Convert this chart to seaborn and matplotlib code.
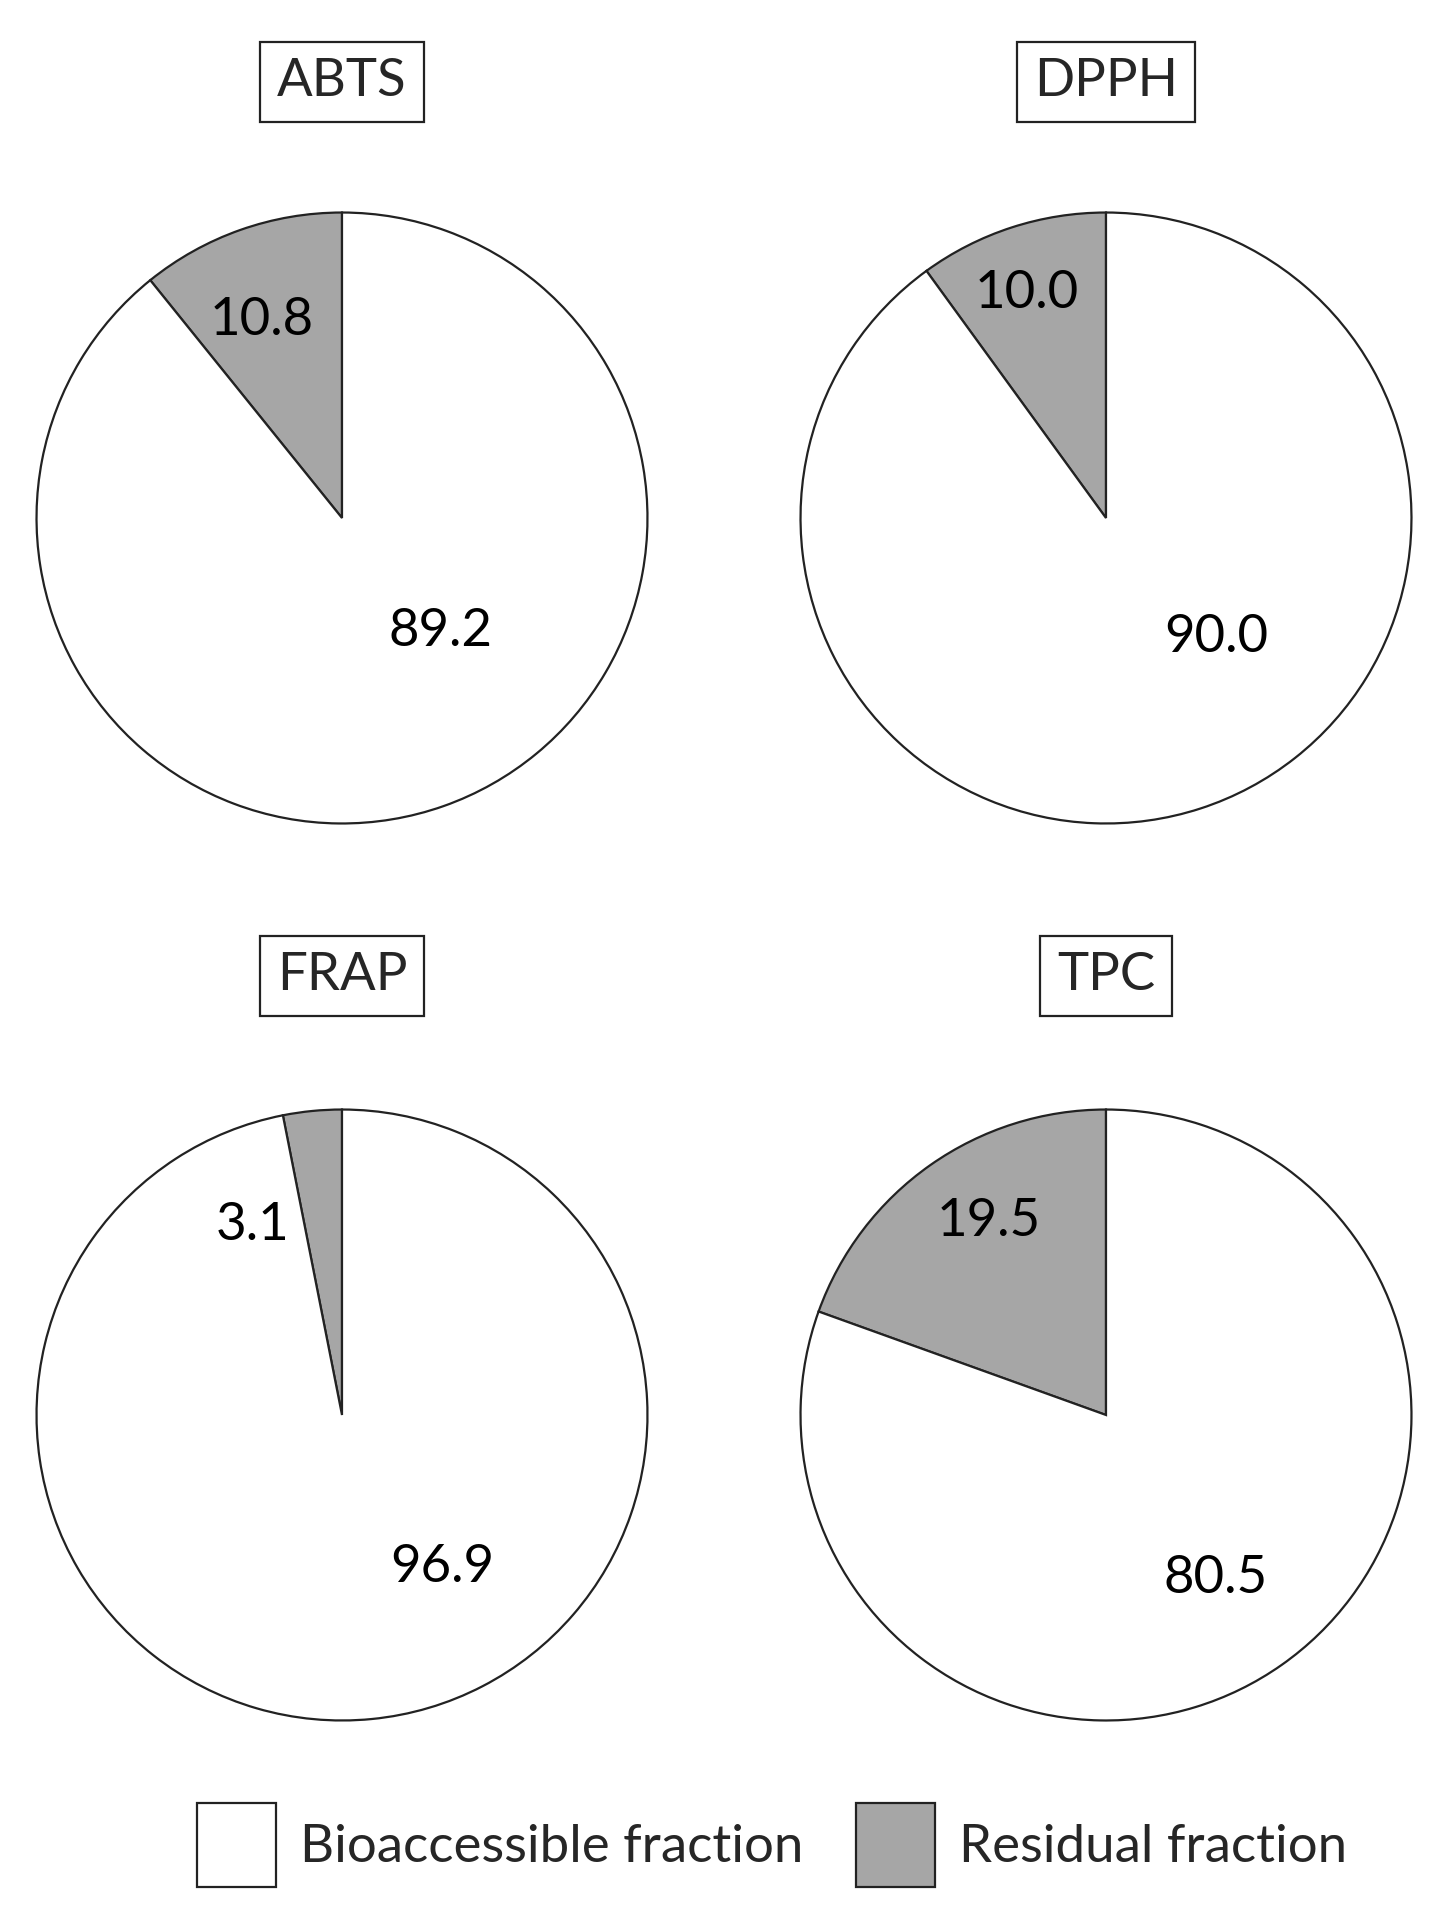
# Bioaccessible vs residual fraction pies
import matplotlib
matplotlib.use("Agg")
import matplotlib.pyplot as plt
from matplotlib.patches import Patch
import seaborn as sns

# data
assays = ["ABTS", "DPPH", "FRAP", "TPC"]
bioaccessible = [89.2, 90.0, 96.9, 80.5]
residual = [10.8, 10.0, 3.1, 19.5]
legend_labels = ["Bioaccessible fraction", "Residual fraction"]

sns.set_theme(style="white")
plt.rcParams["font.family"] = ["Lato", "DejaVu Sans"]

colors = ["white", "#A6A6A6"]
W, H = 1432, 1920
fig = plt.figure(figsize=(W / 100, H / 100), dpi=100)

# pie centres in pixels (from top-left), radius in pixels
centers = [(342, 518), (1106, 518), (342, 1415), (1106, 1415)]
R = 307
# label spots (fraction of radius): residual, bioaccessible
label_pos = [
    [(-0.264, 0.648), (0.324, -0.372)],
    [(-0.26, 0.736), (0.36, -0.392)],
    [(-0.292, 0.62), (0.328, -0.5)],
    [(-0.384, 0.632), (0.36, -0.536)],
]
title_y = [82, 82, 976, 976]
fs = 38

for i, name in enumerate(assays):
    cx, cy = centers[i]
    ax = fig.add_axes([(cx - R) / W, (H - cy - R) / H, 2 * R / W, 2 * R / H])
    ax.pie([residual[i], bioaccessible[i]], colors=colors[::-1], startangle=90,
           counterclock=True, radius=1,
           wedgeprops=dict(edgecolor="#222222", linewidth=1.6))
    ax.set_xlim(-1.005, 1.005)
    ax.set_ylim(-1.005, 1.005)
    ax.set_aspect("equal")
    ax.axis("off")
    vals = [residual[i], bioaccessible[i]]
    for (x, y), v in zip(label_pos[i], vals):
        ax.text(x, y, f"{v:.1f}", ha="center", va="center", fontsize=fs, color="black")
    fig.text(cx / W, 1 - title_y[i] / H, name, ha="center", va="center", fontsize=fs,
             bbox=dict(boxstyle="square,pad=0.32", facecolor="white", edgecolor="#222222", linewidth=1.6))

handles = [Patch(facecolor=c, edgecolor="#222222", linewidth=1.6) for c in colors]
fig.legend(handles, legend_labels, loc="center", bbox_to_anchor=(772 / W, 1 - 1845 / H),
           ncol=2, frameon=False, fontsize=fs, handlelength=1.5, handleheight=2.05,
           handletextpad=0.45, columnspacing=1.0)

fig.savefig("out.png", dpi=100, facecolor="white")
